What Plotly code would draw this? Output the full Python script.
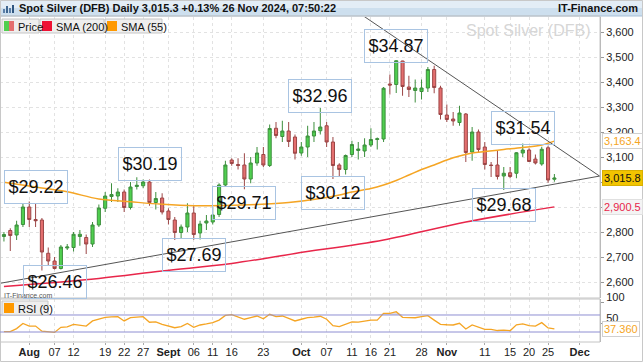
import plotly.graph_objects as go
import pandas as pd

# ---------------- data ----------------
dates = pd.bdate_range("2024-07-26", "2024-11-26")  # 88 daily sessions

opens = [2782, 2806, 2788, 2830, 2900, 2850, 2848, 2715, 2684, 2654,
         2736, 2738, 2782, 2778, 2752, 2828, 2895, 2942, 2944, 2960,
         2898, 2982, 2985, 3000, 2918, 2936, 2884, 2848, 2798, 2820,
         2876, 2796, 2836, 2840, 2870, 2988, 3088, 3070, 3068, 3012,
         3076, 3110, 3066, 3215, 3182, 3204, 3180, 3116, 3140, 3184,
         3205, 3225, 3160, 3068, 3050, 3110, 3126, 3124, 3148, 3170,
         3172, 3392, 3390, 3484, 3380, 3366, 3362, 3376, 3450, 3376,
         3268, 3252, 3238, 3272, 3120, 3200, 3140, 3068, 3068, 3024,
         3037, 3035, 3116, 3128, 3092, 3072, 3137, 3011]
highs = [2800, 2815, 2845, 2915, 2922, 2915, 2856, 2738, 2700, 2748,
         2752, 2800, 2808, 2790, 2840, 2910, 2960, 2995, 2975, 2970,
         3000, 3019, 3010, 3010, 2960, 2955, 2895, 2860, 2830, 2915,
         2905, 2845, 2868, 2900, 2995, 3085, 3095, 3095, 3115, 3100,
         3140, 3140, 3230, 3240, 3245, 3240, 3190, 3160, 3225, 3240,
         3296, 3240, 3180, 3075, 3110, 3165, 3160, 3175, 3215, 3178,
         3380, 3430, 3487, 3485, 3425, 3410, 3410, 3460, 3465, 3385,
         3310, 3280, 3305, 3276, 3220, 3210, 3160, 3080, 3125, 3060,
         3060, 3120, 3154, 3135, 3110, 3141, 3145, 3032]
lows = [2762, 2724, 2768, 2820, 2820, 2820, 2646, 2665, 2650, 2650,
        2728, 2722, 2745, 2712, 2740, 2820, 2880, 2920, 2920, 2880,
        2890, 2970, 2975, 2905, 2890, 2870, 2830, 2768, 2772, 2800,
        2769, 2770, 2808, 2830, 2860, 2980, 3065, 3050, 2971, 2995,
        3065, 3060, 3060, 3175, 3160, 3140, 3090, 3105, 3100, 3160,
        3190, 3140, 3012, 3020, 3030, 3100, 3090, 3100, 3140, 3130,
        3160, 3350, 3356, 3345, 3340, 3318, 3330, 3360, 3355, 3250,
        3240, 3225, 3225, 3080, 3085, 3120, 3050, 3020, 3010, 2968,
        3015, 3015, 3100, 3080, 3070, 3065, 2997, 3001]
closes = [2790, 2786, 2828, 2900, 2850, 2845, 2720, 2684, 2654, 2740,
          2740, 2791, 2791, 2752, 2828, 2896, 2944, 2950, 2960, 2898,
          2980, 2987, 3000, 2918, 2934, 2880, 2850, 2798, 2820, 2876,
          2790, 2832, 2844, 2868, 2988, 3068, 3074, 3066, 3012, 3076,
          3116, 3068, 3214, 3186, 3204, 3162, 3115, 3140, 3184, 3204,
          3220, 3160, 3066, 3050, 3106, 3150, 3132, 3148, 3170, 3173,
          3375, 3388, 3485, 3382, 3370, 3376, 3376, 3450, 3378, 3270,
          3250, 3244, 3276, 3118, 3200, 3130, 3070, 3066, 3022, 3035,
          3022, 3117, 3128, 3082, 3076, 3131, 3008, 3015.8]

rsi9 = [31, 31, 38, 50, 44, 44, 32, 30, 29, 41,
        42, 48, 46, 44, 56, 61, 64.5, 65.5, 66, 56,
        63.7, 65, 66, 53, 54, 48, 44, 40, 42.5, 50,
        41, 46.5, 49, 52, 58, 69, 70.7, 65, 60, 64,
        67.6, 61, 71.6, 66, 67.6, 62, 56, 60, 63.7, 65,
        67, 60, 45, 42.5, 48, 54, 53, 55, 58, 58,
        74, 74, 77.8, 64.6, 64, 63.5, 66, 68.4, 58, 48,
        47, 46.5, 50.5, 37, 46.5, 42, 36.4, 36, 33.5, 34.5,
        33, 47, 49, 45, 44, 52, 39.5, 37.36]

sma55_dates = ["2024-07-26", "2024-08-02", "2024-08-09", "2024-08-16", "2024-08-23",
               "2024-08-30", "2024-09-06", "2024-09-13", "2024-09-20", "2024-09-27",
               "2024-10-04", "2024-10-09", "2024-10-11", "2024-10-16", "2024-10-18",
               "2024-10-22", "2024-10-24", "2024-10-28", "2024-10-30", "2024-11-01",
               "2024-11-05", "2024-11-07", "2024-11-11", "2024-11-14", "2024-11-19",
               "2024-11-22", "2024-11-26"]
sma55 = [2999, 2980, 2961, 2932, 2921, 2911, 2905, 2906, 2910, 2918,
         2934, 2948, 2960, 2974, 2988, 3006, 3028, 3050, 3068, 3088,
         3104, 3116, 3122, 3130, 3138, 3148, 3163.4]

sma200_dates = ["2024-07-26", "2024-08-16", "2024-08-30", "2024-09-16",
                "2024-09-30", "2024-10-18", "2024-11-06", "2024-11-26"]
sma200 = [2582, 2614, 2644, 2674, 2714, 2768, 2840, 2900.5]

trend_down_dates = ["2024-10-10", "2024-12-09"]
trend_down = [3712.6, 2957.4]
trend_up_dates = ["2024-07-24", "2024-12-09"]
trend_up = [2588.5, 3041.2]

callout_days = ["2024-08-01", "2024-08-05", "2024-08-26", "2024-09-06", "2024-09-18",
                "2024-10-04", "2024-10-08", "2024-10-22", "2024-11-14", "2024-11-19"]
callout_kind = ["high", "low", "high", "low", "low", "high", "low", "high", "low", "high"]

tick_dates = ["2024-08-01", "2024-08-07", "2024-08-12", "2024-08-19", "2024-08-22",
              "2024-08-27", "2024-09-02", "2024-09-06", "2024-09-11", "2024-09-16",
              "2024-09-23", "2024-10-01", "2024-10-07", "2024-10-11", "2024-10-16",
              "2024-10-21", "2024-10-28", "2024-11-01", "2024-11-11", "2024-11-15",
              "2024-11-20", "2024-11-25", "2024-12-02"]
tick_labels = ["<b>Aug</b>", "07", "12", "19", "22", "27", "<b>Sept</b>", "06", "11", "16",
               "23", "<b>Oct</b>", "07", "11", "16", "21", "28", "<b>Nov</b>", "11", "15",
               "20", "25", "<b>Dec</b>"]

price_ticks = [2600, 2700, 2800, 2900, 3000, 3100, 3200, 3300, 3400, 3500, 3600]
# 2,900 and 3,000 sit under the value tags on the right edge
price_tick_text = ["2,600", "2,700", "2,800", "", "", "3,100", "3,200", "3,300",
                   "3,400", "3,500", "3,600"]

# ---------------- layout helpers (pixel -> paper) ----------------
W, H = 643, 362
ML, MR, MT, MB = 0, 43, 17, 20
PW, PH = W - ML - MR, H - MT - MB


def px(x):
    return (x - ML) / PW


def py(y):
    return (H - MB - y) / PH


FONT = "Liberation Sans, Arial, sans-serif"
GREEN, RED = "#4fcf4f", "#e46f6f"
ORANGE, CRIMSON = "#f5a524", "#e8264a"

fig = go.Figure()

fig.add_trace(go.Candlestick(
    x=dates, open=opens, high=highs, low=lows, close=closes,
    increasing=dict(fillcolor=GREEN, line=dict(color="#3d8f3d", width=1)),
    decreasing=dict(fillcolor=RED, line=dict(color="#9c4646", width=1)),
    whiskerwidth=0, xaxis="x", yaxis="y", hoverinfo="skip"))

fig.add_trace(go.Scatter(x=sma200_dates, y=sma200, mode="lines",
                         line=dict(color=CRIMSON, width=1.5, shape="spline"),
                         xaxis="x", yaxis="y", hoverinfo="skip"))
fig.add_trace(go.Scatter(x=sma55_dates, y=sma55, mode="lines",
                         line=dict(color=ORANGE, width=1.5, shape="spline"),
                         xaxis="x", yaxis="y", hoverinfo="skip"))
fig.add_trace(go.Scatter(x=trend_down_dates, y=trend_down, mode="lines",
                         line=dict(color="#555555", width=1), xaxis="x", yaxis="y",
                         hoverinfo="skip"))
fig.add_trace(go.Scatter(x=trend_up_dates, y=trend_up, mode="lines",
                         line=dict(color="#555555", width=1), xaxis="x", yaxis="y",
                         hoverinfo="skip"))

# RSI panel
fig.add_trace(go.Scatter(x=dates, y=[70] * len(dates), mode="lines",
                         line=dict(width=0, color="rgba(0,0,0,0)"),
                         xaxis="x2", yaxis="y2", hoverinfo="skip"))
fig.add_trace(go.Scatter(x=dates, y=[max(r, 70) for r in rsi9], mode="lines",
                         line=dict(width=0, color="rgba(0,0,0,0)"), fill="tonexty",
                         fillcolor="rgba(190,190,215,0.55)",
                         xaxis="x2", yaxis="y2", hoverinfo="skip"))
fig.add_trace(go.Scatter(x=dates, y=rsi9, mode="lines",
                         line=dict(color=ORANGE, width=1.3),
                         xaxis="x2", yaxis="y2", hoverinfo="skip"))

xr = ["2024-07-25 09:00", "2024-12-05 05:00"]
rb = [dict(bounds=["sat", "mon"])]
grid = dict(showgrid=True, gridcolor="#e2e2e2", griddash="dot", gridwidth=1)

fig.update_layout(
    width=W, height=H, margin=dict(l=ML, r=MR, t=MT, b=MB),
    paper_bgcolor="white", plot_bgcolor="white", showlegend=False,
    font=dict(family=FONT, size=11, color="#222"),
    xaxis=dict(type="date", domain=[0, 1], anchor="y", range=xr, rangebreaks=rb,
               tickvals=tick_dates, showticklabels=False, zeroline=False,
               rangeslider=dict(visible=False), **grid),
    xaxis2=dict(type="date", domain=[0, 1], anchor="y2", matches="x", range=xr,
                rangebreaks=rb, tickvals=tick_dates, ticktext=tick_labels,
                ticks="outside", ticklen=2, tickcolor="#aaa", ticklabelstandoff=-2,
                tickfont=dict(family=FONT, size=11, color="#222"), zeroline=False,
                **grid),
    yaxis=dict(domain=[py(298), 1], range=[2536, 3660], side="right", anchor="x",
               tickvals=price_ticks, ticktext=price_tick_text, ticks="outside",
               ticklen=3, tickcolor="#999", showline=True, linecolor="#b0b0b0",
               zeroline=False, tickfont=dict(family=FONT, size=11, color="#222"),
               **grid),
    yaxis2=dict(domain=[0, py(299)], range=[6.5, 107.6], side="right", anchor="x2",
                tickvals=[50, 100], ticks="outside", ticklen=3, tickcolor="#999",
                showline=True, linecolor="#b0b0b0", zeroline=False, showgrid=False,
                ticklabelshift=-5,
                tickfont=dict(family=FONT, size=11, color="#222")),
)

shapes = []
# header bar
shapes.append(dict(type="rect", xref="paper", yref="paper", x0=px(0), x1=px(W),
                   y0=py(8), y1=py(0), fillcolor="#e3edf6", line=dict(width=0),
                   layer="below"))
shapes.append(dict(type="rect", xref="paper", yref="paper", x0=px(0), x1=px(W),
                   y0=py(16), y1=py(8), fillcolor="#cddfee", line=dict(width=0),
                   layer="below"))
shapes.append(dict(type="line", xref="paper", yref="paper", x0=px(0), x1=px(W),
                   y0=py(16), y1=py(16), line=dict(color="#a7bfd6", width=1)))
# header icon
for i, (h, c) in enumerate([(4, "#5b7fa8"), (7, "#3f6690"), (5, "#5b7fa8"), (8, "#2f5680")]):
    shapes.append(dict(type="rect", xref="paper", yref="paper",
                       x0=px(3 + i * 3), x1=px(5 + i * 3), y0=py(13), y1=py(13 - h),
                       fillcolor=c, line=dict(width=0)))
# panel frames
shapes.append(dict(type="rect", xref="paper", yref="paper", x0=px(0.5), x1=px(600),
                   y0=py(298), y1=py(16), line=dict(color="#c4c4c4", width=1)))
shapes.append(dict(type="rect", xref="paper", yref="paper", x0=px(0.5), x1=px(600),
                   y0=py(342), y1=py(299), line=dict(color="#c4c4c4", width=1)))
shapes.append(dict(type="rect", xref="paper", yref="paper", x0=px(0.5), x1=px(642.5),
                   y0=py(361.5), y1=py(0.5), line=dict(color="#c8c8c8", width=1)))
# RSI 70 / 30 levels
for lvl in (70, 30):
    shapes.append(dict(type="line", xref="paper", yref="y2", x0=0, x1=1, y0=lvl, y1=lvl,
                       line=dict(color="#8e8ed2", width=1)))
# legend boxes (background + border) and swatches
for x0, x1, y0, y1 in [(2, 39, 19, 33), (40, 104, 19, 33), (105, 162, 19, 33),
                       (2, 48, 301, 315)]:
    shapes.append(dict(type="rect", xref="paper", yref="paper", x0=px(x0), x1=px(x1),
                       y0=py(y1), y1=py(y0), fillcolor="#eeeeee",
                       line=dict(color="#c6c6c6", width=1)))
shapes.append(dict(type="rect", xref="paper", yref="paper", x0=px(4), x1=px(9),
                   y0=py(31), y1=py(21), fillcolor=GREEN, line=dict(width=0)))
shapes.append(dict(type="rect", xref="paper", yref="paper", x0=px(9), x1=px(14),
                   y0=py(31), y1=py(21), fillcolor=RED, line=dict(width=0)))
shapes.append(dict(type="rect", xref="paper", yref="paper", x0=px(42), x1=px(52),
                   y0=py(31), y1=py(21), fillcolor="#ee1133", line=dict(width=0)))
shapes.append(dict(type="rect", xref="paper", yref="paper", x0=px(107), x1=px(117),
                   y0=py(31), y1=py(21), fillcolor="#ff9900", line=dict(width=0)))
shapes.append(dict(type="rect", xref="paper", yref="paper", x0=px(4), x1=px(14),
                   y0=py(313), y1=py(303), fillcolor="#ff9900", line=dict(width=0)))
fig.update_layout(shapes=shapes)

ann = []
ann.append(dict(xref="paper", yref="paper", x=px(17), y=py(8.5), xanchor="left",
                yanchor="middle", showarrow=False,
                text="<b>Spot Silver (DFB) Daily 3,015.3 +0.13% 26 Nov 2024, 07:50:22</b>",
                font=dict(family=FONT, size=11, color="#111")))
ann.append(dict(xref="paper", yref="paper", x=px(640), y=py(8.5), xanchor="right",
                yanchor="middle", showarrow=False, text="<b>IT-Finance.com</b>",
                font=dict(family=FONT, size=11, color="#111")))
# legend labels
for x0, label in [(16, "Price"), (54, "SMA (200)"), (119, "SMA (55)")]:
    ann.append(dict(xref="paper", yref="paper", x=px(x0), y=py(26.5), xanchor="left",
                    yanchor="middle", showarrow=False, text=label,
                    font=dict(family=FONT, size=11, color="#111")))
ann.append(dict(xref="paper", yref="paper", x=px(16), y=py(308.5), xanchor="left",
                yanchor="middle", showarrow=False, text="RSI (9)",
                font=dict(family=FONT, size=11, color="#111")))
# watermark text & small credit
ann.append(dict(xref="paper", yref="paper", x=px(592), y=py(30), xanchor="right",
                yanchor="middle", showarrow=False, text="Spot Silver (DFB)",
                font=dict(family=FONT, size=16, color="#d6d6d6")))
ann.append(dict(xref="paper", yref="paper", x=px(2), y=py(295), xanchor="left",
                yanchor="middle", showarrow=False, text="IT-Finance.com",
                font=dict(family=FONT, size=7, color="#555")))

# price callouts
shifts = [(7, 15), (13, -11), (13, 13.5), (0, -15), (0, -14),
          (0, 12), (0, -14), (0, 14), (0, -15), (0, 16)]
date_index = {d.strftime("%Y-%m-%d"): i for i, d in enumerate(dates)}
for d, kind, (dx, dy) in zip(callout_days, callout_kind, shifts):
    i = date_index[d]
    v = highs[i] if kind == "high" else lows[i]
    ann.append(dict(xref="x", yref="y", x=d, y=v, showarrow=False, xshift=dx, yshift=dy,
                    text=f"${v / 100:.2f}", width=56, height=26, borderpad=3,
                    borderwidth=1, bordercolor="#a9c4e2", bgcolor="rgba(0,0,0,0)",
                    font=dict(family=FONT, size=18, color="#111")))

# right-edge value tags
ann.append(dict(xref="paper", yref="y", x=px(602), y=sma55[-1], xanchor="left",
                yanchor="middle", showarrow=False, text=f"{sma55[-1]:,.1f}",
                bgcolor="white", bordercolor="#d0d0d0", borderwidth=1, borderpad=1,
                font=dict(family=FONT, size=11, color=ORANGE)))
ann.append(dict(xref="paper", yref="y", x=px(602), y=closes[-1], xanchor="left",
                yanchor="middle", showarrow=False, text=f"{closes[-1]:,.1f}",
                bgcolor="#f2c400", bordercolor="#d8b000", borderwidth=1, borderpad=1,
                font=dict(family=FONT, size=11, color="#111")))
ann.append(dict(xref="paper", yref="y", x=px(602), y=sma200[-1], xanchor="left",
                yanchor="middle", showarrow=False, text=f"{sma200[-1]:,.1f}",
                bgcolor="#f4f4f4", bordercolor="#e0e0e0", borderwidth=1, borderpad=1,
                font=dict(family=FONT, size=11, color=CRIMSON)))
ann.append(dict(xref="paper", yref="y2", x=px(602), y=rsi9[-1], xanchor="left",
                yanchor="middle", showarrow=False, text=f"{rsi9[-1]:.3f}",
                bgcolor="white", bordercolor="#d0d0d0", borderwidth=1, borderpad=1,
                font=dict(family=FONT, size=11, color=ORANGE)))
fig.update_layout(annotations=ann)

fig.write_html("out.html", config={"displayModeBar": False},
               post_script="document.body.style.margin='0';document.body.style.overflow='hidden';")
